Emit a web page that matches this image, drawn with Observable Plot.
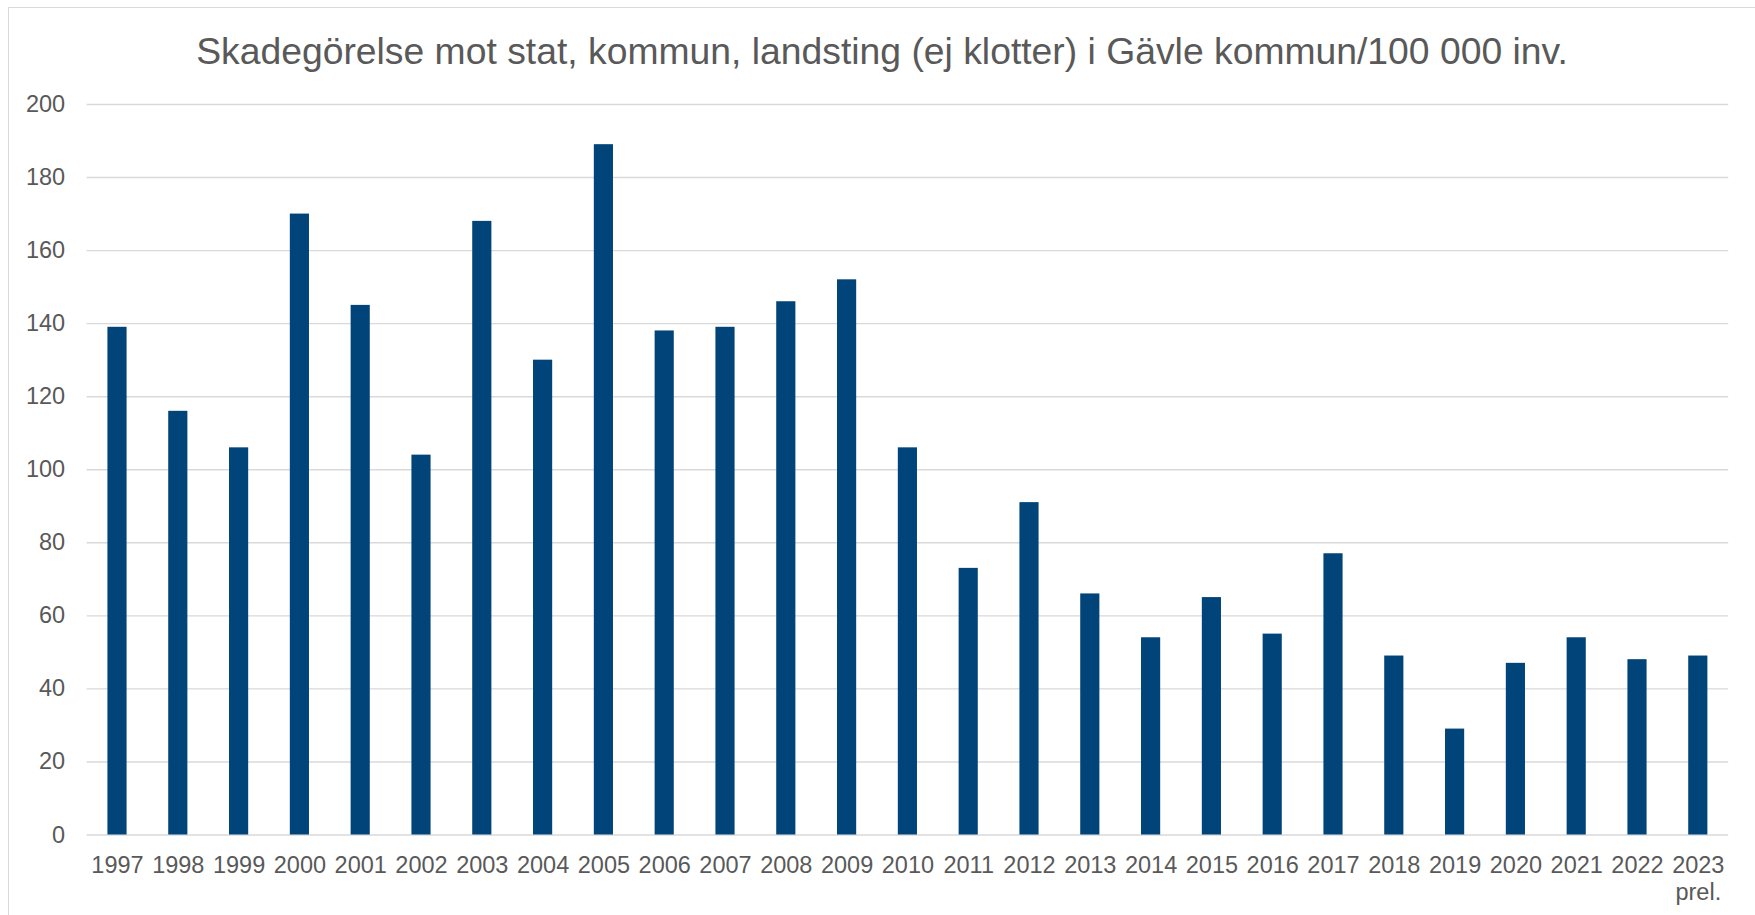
<!DOCTYPE html>
<html>
<head>
<meta charset="utf-8">
<script src="https://cdn.jsdelivr.net/npm/d3@7"></script>
<script src="https://cdn.jsdelivr.net/npm/@observablehq/plot@0.6"></script>
<style>
  html, body { margin: 0; padding: 0; background: #fff; overflow: hidden; }
  body { width: 1755px; height: 915px; position: relative; font-family: "Liberation Sans", Arial, sans-serif; }
  #frame { position: absolute; left: 7.5px; top: 6.5px; width: 1760px; height: 920px; border: 1.5px solid #d9d9d9; box-sizing: border-box; }
  #title { position: absolute; left: 0; top: 32.5px; width: 1764px; text-align: center; font-size: 37.3px; line-height: 37.3px; color: #595959; white-space: nowrap; }
  #chart { position: absolute; left: 0; top: 70px; }
</style>
</head>
<body>
<div id="frame"></div>
<div id="title">Skadegörelse mot stat, kommun, landsting (ej klotter) i Gävle kommun/100 000 inv.</div>
<div id="chart"></div>
<script>
const years = ["1997","1998","1999","2000","2001","2002","2003","2004","2005","2006","2007","2008","2009","2010","2011","2012","2013","2014","2015","2016","2017","2018","2019","2020","2021","2022","2023"];
const tickLabels = ["1997","1998","1999","2000","2001","2002","2003","2004","2005","2006","2007","2008","2009","2010","2011","2012","2013","2014","2015","2016","2017","2018","2019","2020","2021","2022","2023\nprel."];
const values = [139,116,106,170,145,104,168,130,189,138,139,146,152,106,73,91,66,54,65,55,77,49,29,47,54,48,49];
const yTicks = [0,20,40,60,80,100,120,140,160,180,200];

const data = years.map((y, i) => ({year: y, value: values[i]}));
const labelOf = new Map(years.map((y, i) => [y, tickLabels[i]]));

const chart = Plot.plot({
  width: 1755,
  height: 845,
  marginTop: 34,
  marginBottom: 80.5,
  marginLeft: 86.6,
  marginRight: 26.8,
  style: {fontFamily: "'Liberation Sans', Arial, sans-serif", fontSize: "23.5px", color: "#595959", background: "transparent"},
  x: {domain: years, paddingInner: 0.685, paddingOuter: 0.3425, align: 0.5, round: false},
  y: {domain: [0, 200], ticks: yTicks},
  marks: [
    Plot.ruleY(yTicks, {stroke: "#d9d9d9", strokeWidth: 1.4}),
    Plot.barY(data, {x: "year", y: "value", fill: "#014479"}),
    Plot.axisY(yTicks, {tickSize: 0, tickPadding: 22, label: null, fill: "#595959", fontSize: 23.5}),
    Plot.axisX({tickSize: 0, tickPadding: 18.5, label: null, tickFormat: d => labelOf.get(d), lineHeight: 1.15, fill: "#595959", fontSize: 23.5})
  ]
});
document.getElementById("chart").appendChild(chart);
</script>
</body>
</html>
